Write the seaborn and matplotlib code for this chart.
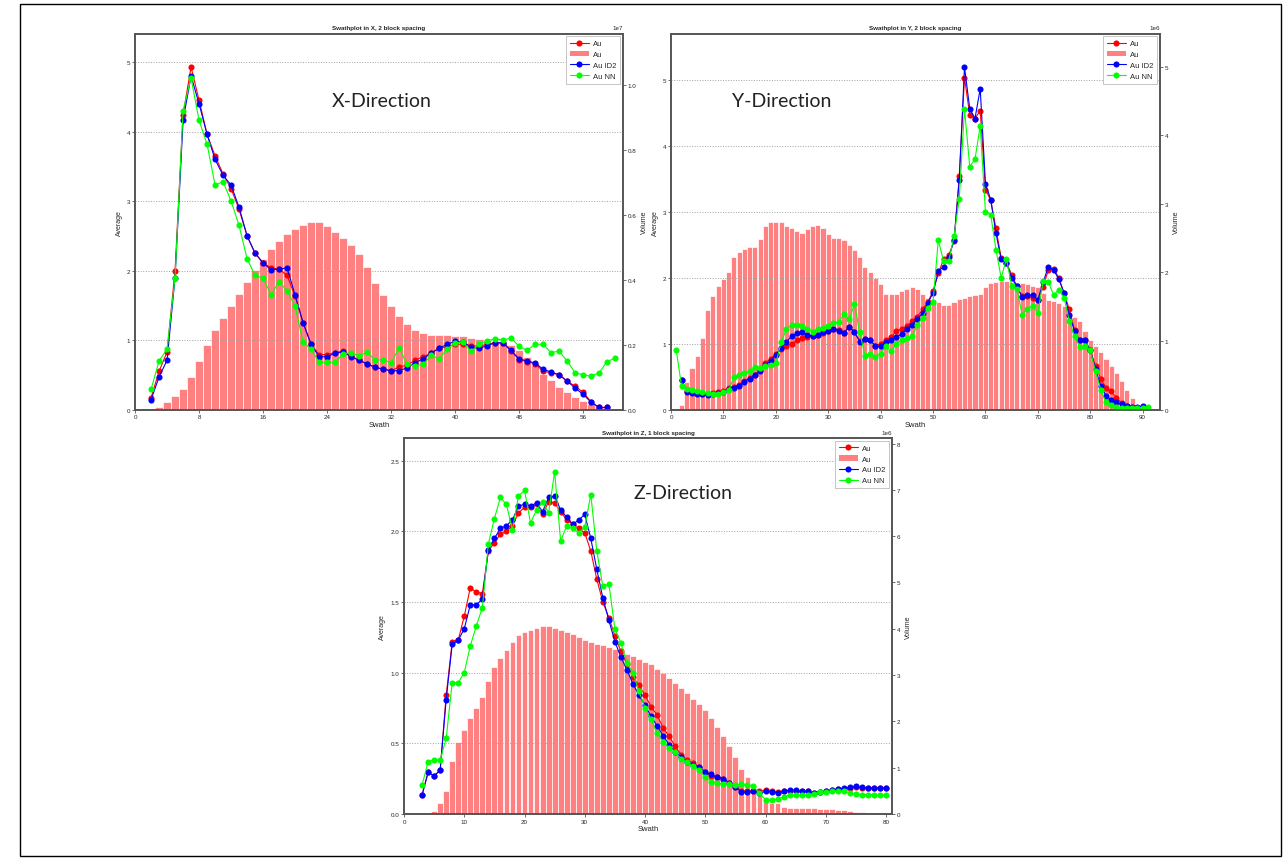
import matplotlib
matplotlib.use('Agg')
import matplotlib.pyplot as plt
from matplotlib.lines import Line2D
from matplotlib.patches import Patch, Rectangle
from matplotlib.ticker import MultipleLocator
import numpy as np
import seaborn as sns

# DATA

# X direction: averages start at swath 2, NN at swath 2, volume bars at swath 3
X_AVG_START = 2
X_AU = [0.17, 0.55, 0.83, 2.00, 4.24, 4.93, 4.45, 3.96, 3.65, 3.39, 3.18, 2.88, 2.50, 2.25, 2.11,
        2.04, 2.02, 1.93, 1.63, 1.25, 0.94, 0.79, 0.79, 0.82, 0.84, 0.77, 0.71, 0.65, 0.61, 0.58,
        0.56, 0.61, 0.64, 0.71, 0.76, 0.81, 0.89, 0.90, 0.94, 0.94, 0.92, 0.91, 0.94, 0.96, 0.96,
        0.84, 0.72, 0.69, 0.66, 0.55, 0.53, 0.50, 0.41, 0.335, 0.25, 0.11, 0.03, 0.03]
X_AU_ID2 = [0.14, 0.47, 0.71, 1.90, 4.16, 4.80, 4.40, 3.96, 3.60, 3.37, 3.23, 2.91, 2.50, 2.25, 2.11,
            2.01, 2.02, 2.04, 1.65, 1.25, 0.94, 0.76, 0.76, 0.81, 0.83, 0.76, 0.71, 0.66, 0.61, 0.58,
            0.56, 0.56, 0.60, 0.67, 0.73, 0.81, 0.88, 0.94, 0.98, 0.97, 0.90, 0.88, 0.92, 0.96, 0.96,
            0.85, 0.73, 0.70, 0.67, 0.58, 0.54, 0.50, 0.41, 0.31, 0.22, 0.105, 0.03, 0.03]
X_NN_START = 2
X_AU_NN = [0.29, 0.70, 0.87, 1.90, 4.30, 4.77, 4.16, 3.82, 3.23, 3.28, 3.00, 2.65, 2.17, 1.93, 1.89,
           1.65, 1.84, 1.71, 1.49, 0.97, 0.87, 0.68, 0.68, 0.68, 0.80, 0.82, 0.77, 0.83, 0.71, 0.72,
           0.67, 0.89, 0.65, 0.63, 0.65, 0.78, 0.73, 0.87, 0.96, 0.97, 0.84, 0.94, 0.99, 1.02, 1.00,
           1.03, 0.91, 0.85, 0.94, 0.94, 0.82, 0.84, 0.70, 0.53, 0.50, 0.48, 0.53, 0.69, 0.74]
X_VOL_START = 3
X_VOLUME = [0.007, 0.023, 0.041, 0.065, 0.10, 0.151, 0.20, 0.247, 0.281, 0.32, 0.358, 0.394, 0.432,
            0.463, 0.496, 0.52, 0.541, 0.558, 0.57, 0.579, 0.579, 0.566, 0.547, 0.528, 0.508, 0.48,
            0.439, 0.391, 0.355, 0.321, 0.29, 0.264, 0.247, 0.237, 0.231, 0.23, 0.23, 0.228, 0.226,
            0.221, 0.218, 0.216, 0.212, 0.205, 0.20, 0.185, 0.162, 0.138, 0.11, 0.09, 0.07, 0.053,
            0.038, 0.027, 0.016, 0.007, 0.003]  # x 1e7

# Y direction
Y_AVG_START = 2
Y_AU = [0.45, 0.28, 0.26, 0.25, 0.24, 0.24, 0.25, 0.26, 0.28, 0.33, 0.35, 0.38, 0.43, 0.48, 0.53,
        0.60, 0.71, 0.77, 0.84, 0.92, 0.96, 1.00, 1.05, 1.09, 1.10, 1.12, 1.14, 1.17, 1.19, 1.22,
        1.21, 1.17, 1.25, 1.18, 1.04, 1.07, 1.05, 0.97, 1.00, 1.05, 1.10, 1.19, 1.22, 1.27, 1.34,
        1.41, 1.52, 1.63, 1.80, 2.07, 2.28, 2.34, 2.56, 3.54, 5.04, 4.47, 4.42, 4.54, 3.34, 3.18,
        2.75, 2.30, 2.23, 2.05, 1.87, 1.72, 1.72, 1.70, 1.67, 1.86, 2.12, 2.14, 2.00, 1.77, 1.52,
        1.21, 1.05, 1.05, 0.90, 0.66, 0.47, 0.33, 0.28, 0.18, 0.10, 0.06, 0.04, 0.03, 0.03]
Y_AU_ID2 = [0.45, 0.27, 0.25, 0.24, 0.23, 0.22, 0.24, 0.25, 0.27, 0.31, 0.33, 0.36, 0.42, 0.47, 0.52,
            0.58, 0.68, 0.74, 0.83, 0.93, 1.03, 1.11, 1.16, 1.18, 1.14, 1.12, 1.14, 1.18, 1.19, 1.23,
            1.20, 1.16, 1.26, 1.18, 1.03, 1.07, 1.06, 0.96, 0.96, 1.03, 1.05, 1.10, 1.15, 1.22, 1.29,
            1.37, 1.47, 1.62, 1.77, 2.10, 2.17, 2.31, 2.57, 3.48, 5.20, 4.57, 4.42, 4.87, 3.43, 3.19,
            2.68, 2.28, 2.23, 2.00, 1.87, 1.71, 1.74, 1.74, 1.67, 1.93, 2.17, 2.12, 1.98, 1.77, 1.44,
            1.19, 1.05, 1.05, 0.90, 0.62, 0.36, 0.21, 0.15, 0.11, 0.08, 0.05, 0.04, 0.035, 0.06]
Y_NN_START = 1
Y_AU_NN = [0.90, 0.36, 0.31, 0.30, 0.28, 0.27, 0.25, 0.24, 0.24, 0.27, 0.29, 0.49, 0.53, 0.55, 0.58,
           0.65, 0.63, 0.66, 0.67, 0.70, 1.02, 1.22, 1.28, 1.28, 1.27, 1.23, 1.18, 1.23, 1.24, 1.27,
           1.32, 1.33, 1.45, 1.37, 1.60, 1.18, 0.82, 0.85, 0.80, 0.85, 0.96, 0.89, 0.99, 1.06, 1.09,
           1.11, 1.29, 1.39, 1.54, 1.64, 2.57, 2.26, 2.26, 2.63, 3.20, 4.56, 3.69, 3.80, 4.31, 3.00,
           2.96, 2.43, 2.00, 2.29, 1.88, 1.83, 1.44, 1.53, 1.57, 1.46, 1.95, 1.94, 1.74, 1.82, 1.70,
           1.35, 1.11, 0.95, 0.96, 0.90, 0.58, 0.30, 0.11, 0.07, 0.04, 0.03, 0.03, 0.03, 0.03, 0.03,
           0.035]
Y_VOL_START = 2
Y_VOLUME = [0.06, 0.40, 0.61, 0.78, 1.05, 1.45, 1.66, 1.80, 1.90, 2.00, 2.22, 2.30, 2.34, 2.37, 2.37,
            2.48, 2.67, 2.73, 2.74, 2.74, 2.68, 2.64, 2.60, 2.58, 2.63, 2.68, 2.69, 2.65, 2.56, 2.50,
            2.50, 2.47, 2.40, 2.33, 2.22, 2.08, 2.00, 1.92, 1.83, 1.69, 1.69, 1.69, 1.73, 1.76, 1.78,
            1.76, 1.68, 1.62, 1.60, 1.57, 1.52, 1.53, 1.57, 1.61, 1.63, 1.66, 1.67, 1.69, 1.79, 1.84,
            1.86, 1.87, 1.87, 1.86, 1.84, 1.84, 1.83, 1.80, 1.78, 1.70, 1.60, 1.58, 1.56, 1.51, 1.42,
            1.35, 1.29, 1.15, 1.01, 0.93, 0.84, 0.73, 0.63, 0.54, 0.41, 0.29, 0.17, 0.07, 0.02]  # x 1e6

# Z direction
Z_AVG_START = 3
Z_AU = [0.135, 0.295, 0.27, 0.31, 0.84, 1.22, 1.23, 1.40, 1.60, 1.57, 1.56, 1.86, 1.92, 1.98, 2.00,
        2.04, 2.13, 2.17, 2.17, 2.19, 2.12, 2.21, 2.20, 2.14, 2.08, 2.05, 2.02, 1.99, 1.86, 1.66,
        1.50, 1.39, 1.26, 1.15, 1.06, 0.97, 0.91, 0.84, 0.76, 0.70, 0.61, 0.55, 0.48, 0.42, 0.38,
        0.36, 0.33, 0.295, 0.27, 0.26, 0.25, 0.22, 0.19, 0.165, 0.16, 0.165, 0.16, 0.17, 0.165, 0.155,
        0.16, 0.165, 0.165, 0.16, 0.16, 0.15, 0.155, 0.16, 0.17, 0.175, 0.18, 0.185, 0.19, 0.185,
        0.185, 0.185, 0.185, 0.185]
Z_AU_ID2 = [0.135, 0.295, 0.27, 0.31, 0.81, 1.20, 1.23, 1.31, 1.48, 1.48, 1.52, 1.87, 1.95, 2.02, 2.04,
            2.08, 2.18, 2.19, 2.18, 2.20, 2.14, 2.24, 2.25, 2.15, 2.10, 2.05, 2.08, 2.12, 1.95, 1.73,
            1.53, 1.37, 1.22, 1.11, 1.02, 0.92, 0.84, 0.77, 0.69, 0.625, 0.555, 0.49, 0.44, 0.40, 0.37,
            0.35, 0.335, 0.295, 0.28, 0.26, 0.25, 0.22, 0.19, 0.155, 0.155, 0.16, 0.146, 0.16, 0.155,
            0.15, 0.16, 0.17, 0.17, 0.16, 0.16, 0.15, 0.155, 0.16, 0.17, 0.175, 0.185, 0.19, 0.195,
            0.19, 0.185, 0.185, 0.185, 0.185]
Z_NN_START = 3
Z_AU_NN = [0.205, 0.37, 0.385, 0.38, 0.535, 0.93, 0.93, 1.00, 1.19, 1.33, 1.46, 1.91, 2.09, 2.24, 2.19,
           2.01, 2.25, 2.29, 2.06, 2.15, 2.21, 2.13, 2.42, 1.93, 2.04, 2.02, 1.99, 2.03, 2.26, 1.86,
           1.61, 1.63, 1.31, 1.21, 1.07, 1.00, 0.87, 0.75, 0.67, 0.57, 0.51, 0.47, 0.44, 0.39, 0.365,
           0.34, 0.31, 0.26, 0.23, 0.22, 0.21, 0.21, 0.205, 0.21, 0.205, 0.195, 0.146, 0.10, 0.10, 0.105,
           0.12, 0.135, 0.135, 0.135, 0.135, 0.14, 0.155, 0.155, 0.16, 0.16, 0.16, 0.15, 0.14, 0.137,
           0.137, 0.137, 0.137, 0.137]
Z_VOL_START = 4
Z_VOLUME = [0.01, 0.07, 0.24, 0.50, 1.14, 1.56, 1.82, 2.07, 2.29, 2.52, 2.87, 3.17, 3.37, 3.55, 3.71,
            3.87, 3.93, 3.98, 4.02, 4.05, 4.05, 4.02, 3.98, 3.93, 3.88, 3.82, 3.76, 3.71, 3.68, 3.64,
            3.60, 3.57, 3.52, 3.46, 3.41, 3.35, 3.29, 3.23, 3.14, 3.04, 2.94, 2.83, 2.73, 2.61, 2.49,
            2.38, 2.25, 2.08, 1.89, 1.68, 1.46, 1.24, 0.97, 0.79, 0.61, 0.43, 0.30, 0.23, 0.23, 0.16,
            0.13, 0.13, 0.13, 0.13, 0.12, 0.115, 0.11, 0.10, 0.09, 0.08, 0.065, 0.05, 0.04, 0.03, 0.02,
            0.015, 0.007]  # x 1e6

LABELS = ['Au', 'Au', 'Au ID2', 'Au NN']

# STYLE

sns.set_style('white')
plt.rcParams['font.family'] = ['Liberation Sans', 'DejaVu Sans']

RED = '#ff0000'
BLUE = '#0000ff'
GREEN = '#00ff00'
BAR = '#ff8080'
SPINE = '#555555'

fig = plt.figure(figsize=(12.85, 8.62), dpi=100)
fig.patch.set_facecolor('white')


def swaths(start, values):
    return np.arange(start, start + len(values))


def swath_panel(rect, p):
    ax = fig.add_axes(rect)
    ax2 = ax.twinx()
    ax.set_zorder(2)
    ax2.set_zorder(1)
    ax.patch.set_visible(False)

    # volume bars on the right axis
    sns.barplot(x=swaths(p['vol_start'], p['vol']), y=np.array(p['vol']) * p['vol_scale'],
                native_scale=True, color=BAR, saturation=1, width=0.97, errorbar=None,
                edgecolor='white', linewidth=0.5, ax=ax2)
    if ax2.get_legend() is not None:
        ax2.get_legend().remove()

    # averages on the left axis
    line_kw = dict(marker='o', markersize=4.4, markeredgewidth=0, linewidth=0.8, legend=False, ax=ax)
    sns.lineplot(x=swaths(p['avg_start'], p['au']), y=p['au'], color=RED, **line_kw)
    sns.lineplot(x=swaths(p['avg_start'], p['id2']), y=p['id2'], color=BLUE, **line_kw)
    sns.lineplot(x=swaths(p['nn_start'], p['nn']), y=p['nn'], color=GREEN, **line_kw)

    ax.set_xlim(0, p['xmax'])
    ax.set_ylim(0, p['ymax'])
    ax2.set_ylim(0, p['vmax'])
    ax.xaxis.set_major_locator(MultipleLocator(p['xstep']))
    ax.yaxis.set_major_locator(MultipleLocator(p['ystep']))
    ax2.yaxis.set_major_locator(MultipleLocator(p['vstep']))

    ax.yaxis.grid(True, linestyle=':', color='#a0a0a0', linewidth=0.7)
    ax.xaxis.grid(False)
    ax2.grid(False)

    for a in (ax, ax2):
        for s in a.spines.values():
            s.set_color(SPINE)
            s.set_linewidth(1.2)
        a.tick_params(labelsize=4.5, length=2, width=0.6, color=SPINE, pad=1.5)
    ax.tick_params(bottom=True, left=True, right=False)
    ax2.tick_params(right=True, left=False, bottom=False)
    ax2.yaxis.get_offset_text().set_fontsize(4.5)

    ax.set_xlabel('Swath', fontsize=5.5, labelpad=1)
    ax.set_ylabel('Average', fontsize=5, labelpad=3)
    ax2.set_ylabel('Volume', fontsize=5, labelpad=3)
    ax2.set_xlabel('')
    ax.set_title(p['title'], fontsize=4.5, fontweight='bold', pad=3)

    ax.text(p['dir_xy'][0], p['dir_xy'][1], p['direction'], transform=ax.transAxes,
            ha='center', va='center', fontsize=14, color='#222222',
            family=['Lato', 'DejaVu Sans'])

    handles = [
        Line2D([], [], color=RED, marker='o', markersize=4.4, markeredgewidth=0, linewidth=0.8),
        Patch(facecolor=BAR, edgecolor='none'),
        Line2D([], [], color=BLUE, marker='o', markersize=4.4, markeredgewidth=0, linewidth=0.8),
        Line2D([], [], color=GREEN, marker='o', markersize=4.4, markeredgewidth=0, linewidth=0.8),
    ]
    leg = ax.legend(handles, LABELS, loc='upper right', fontsize=5.5, frameon=True,
                    fancybox=False, framealpha=1, edgecolor='#bbbbbb', borderpad=0.5,
                    labelspacing=0.45, handlelength=2.4, handletextpad=0.6, borderaxespad=0.35,
                    numpoints=1)
    leg.get_frame().set_linewidth(0.6)
    return ax, ax2


panel_x = dict(avg_start=X_AVG_START, au=X_AU, id2=X_AU_ID2, nn_start=X_NN_START, nn=X_AU_NN,
               vol_start=X_VOL_START, vol=X_VOLUME, vol_scale=1e7,
               xmax=61, xstep=8, ymax=5.41, ystep=1, vmax=1.16e7, vstep=0.2e7,
               title='Swathplot in X, 2 block spacing', direction='X-Direction', dir_xy=(0.505, 0.822))
panel_y = dict(avg_start=Y_AVG_START, au=Y_AU, id2=Y_AU_ID2, nn_start=Y_NN_START, nn=Y_AU_NN,
               vol_start=Y_VOL_START, vol=Y_VOLUME, vol_scale=1e6,
               xmax=93.3, xstep=10, ymax=5.71, ystep=1, vmax=5.48e6, vstep=1e6,
               title='Swathplot in Y, 2 block spacing', direction='Y-Direction', dir_xy=(0.227, 0.822))
panel_z = dict(avg_start=Z_AVG_START, au=Z_AU, id2=Z_AU_ID2, nn_start=Z_NN_START, nn=Z_AU_NN,
               vol_start=Z_VOL_START, vol=Z_VOLUME, vol_scale=1e6,
               xmax=81, xstep=10, ymax=2.66, ystep=0.5, vmax=8.12e6, vstep=1e6,
               title='Swathplot in Z, 1 block spacing', direction='Z-Direction', dir_xy=(0.572, 0.854))

swath_panel([0.1051, 0.5237, 0.3798, 0.4362], panel_x)
swath_panel([0.5222, 0.5237, 0.3805, 0.4362], panel_y)
swath_panel([0.3144, 0.0545, 0.3798, 0.4362], panel_z)

# frame round the whole figure
fig.add_artist(Rectangle((20 / 1285, 5 / 862), 1261 / 1285, 852 / 862, transform=fig.transFigure,
                         fill=False, edgecolor='black', linewidth=1.0))

fig.savefig('out.png', dpi=100, facecolor='white')
